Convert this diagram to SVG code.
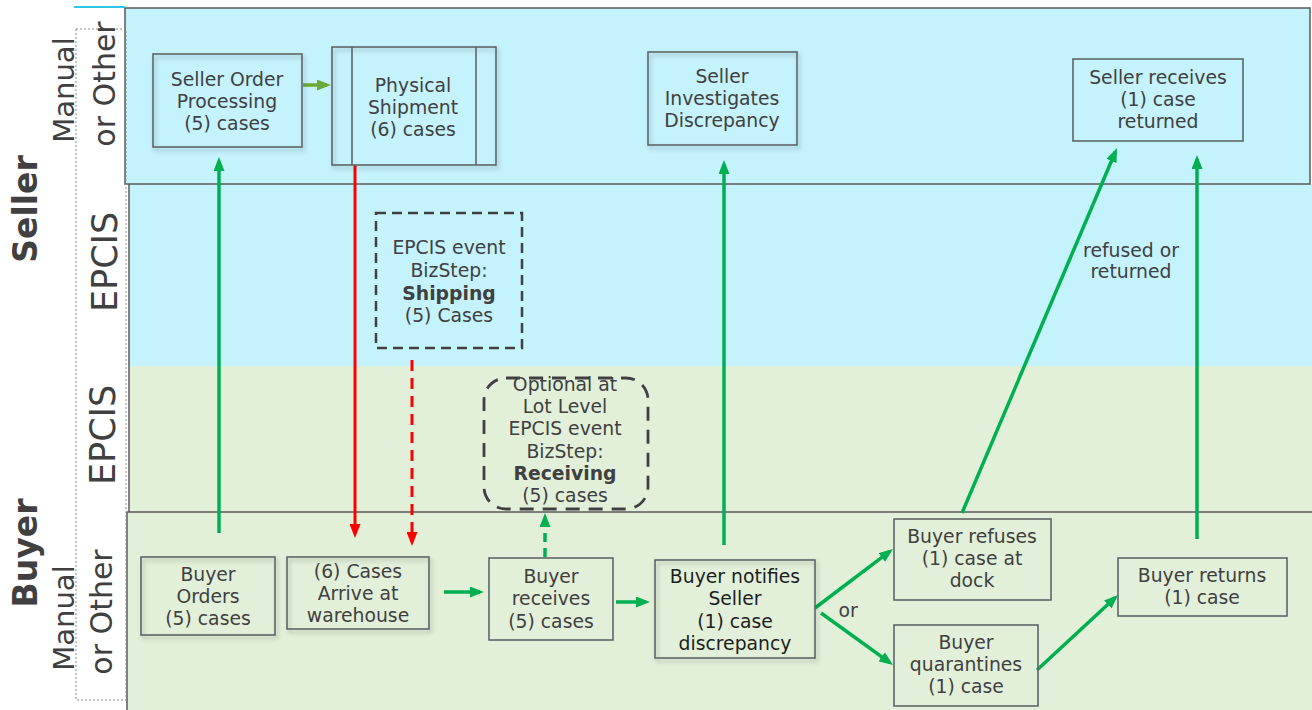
<svg xmlns="http://www.w3.org/2000/svg" width="1312" height="710" viewBox="0 0 1312 710">
<style>
.t{font-family:"DejaVu Sans","Liberation Sans",sans-serif;font-size:18.8px;fill:#404040;text-anchor:middle}
.b{font-weight:bold}
.lab{font-family:"DejaVu Sans","Liberation Sans",sans-serif;fill:#404040;text-anchor:middle}
.box{fill:none;stroke:#5f6666;stroke-width:1.6}
.g{stroke:#00b050;stroke-width:3.5;fill:none}
</style>
<defs>
<filter id="sh" x="-10%" y="-10%" width="130%" height="130%">
<feDropShadow dx="2" dy="3" stdDeviation="2" flood-color="#000" flood-opacity="0.25"/>
</filter>
<marker id="ag" viewBox="0 0 14 11" refX="10" refY="5.5" markerWidth="14" markerHeight="11" markerUnits="userSpaceOnUse" orient="auto">
<path d="M0,0 L14,5.5 L0,11 z" fill="#00b050"/>
</marker>
<marker id="al" viewBox="0 0 14 11" refX="10" refY="5.5" markerWidth="14" markerHeight="11" markerUnits="userSpaceOnUse" orient="auto">
<path d="M0,0 L14,5.5 L0,11 z" fill="#6aaa3a"/>
</marker>
<marker id="ar" viewBox="0 0 14 11" refX="10" refY="5.5" markerWidth="14" markerHeight="11" markerUnits="userSpaceOnUse" orient="auto">
<path d="M0,0 L14,5.5 L0,11 z" fill="#ff0000"/>
</marker>
</defs>
<rect x="0" y="0" width="1312" height="710" fill="#ffffff"/>

<g id="lanes">
<rect x="129" y="184" width="1183" height="182" fill="#c4f2fd"/>
<rect x="129" y="366" width="1183" height="146" fill="#e2f0d9"/>
<rect x="127" y="512" width="1185" height="198" fill="#e2f0d9"/>
<line x1="129" y1="184" x2="129" y2="512" stroke="#5a5a5a" stroke-width="1.5"/>
<line x1="127" y1="512" x2="1312" y2="512" stroke="#5a5a5a" stroke-width="1.5"/>
<line x1="127" y1="512" x2="127" y2="710" stroke="#5a5a5a" stroke-width="1.5"/>
<rect x="125" y="8" width="1185" height="176" fill="#c4f2fd" stroke="#5a5a5a" stroke-width="1.5"/>
<line x1="74" y1="7" x2="125" y2="7" stroke="#2ec5e8" stroke-width="2"/>
<rect x="76" y="29" width="50" height="671" fill="none" stroke="#8a8a8a" stroke-width="1" stroke-dasharray="2 2"/>
<text class="lab b" font-size="33" transform="translate(37,209) rotate(-90)">Seller</text>
<text class="lab b" font-size="33" transform="translate(37,553) rotate(-90)">Buyer</text>
<text class="lab" font-size="29" transform="translate(74,90) rotate(-90)">Manual</text>
<text class="lab" font-size="30" transform="translate(115,84) rotate(-90)">or Other</text>
<text class="lab" font-size="35" transform="translate(117,262) rotate(-90)">EPCIS</text>
<text class="lab" font-size="35" transform="translate(115,435) rotate(-90)">EPCIS</text>
<text class="lab" font-size="29" transform="translate(74,618) rotate(-90)">Manual</text>
<text class="lab" font-size="30" transform="translate(112,612) rotate(-90)">or Other</text>
</g>

<g id="connectors">
<line x1="303" y1="85" x2="327" y2="85" stroke="#6aaa3a" stroke-width="3.5" marker-end="url(#al)"/>
<line class="g" x1="219" y1="533" x2="219" y2="161" marker-end="url(#ag)"/>
<line x1="355" y1="165" x2="355" y2="534" stroke="#ff0000" stroke-width="3" marker-end="url(#ar)"/>
<line x1="412" y1="360" x2="412" y2="542" stroke="#ff0000" stroke-width="3" stroke-dasharray="11 7" marker-end="url(#ar)"/>
<line class="g" x1="444" y1="592" x2="480" y2="592" marker-end="url(#ag)"/>
<line class="g" x1="545" y1="557" x2="545" y2="517" stroke-dasharray="9 6" marker-end="url(#ag)"/>
<line class="g" x1="616" y1="602" x2="646" y2="602" marker-end="url(#ag)"/>
<line class="g" x1="724" y1="545" x2="724" y2="164" marker-end="url(#ag)"/>
<line class="g" x1="815" y1="608" x2="889.8" y2="551.4" marker-end="url(#ag)"/>
<line class="g" x1="821" y1="613" x2="889.8" y2="662.7" marker-end="url(#ag)"/>
<line class="g" x1="1037" y1="670" x2="1115.1" y2="597.7" marker-end="url(#ag)"/>
<line class="g" x1="962" y1="513" x2="1115.4" y2="151.7" marker-end="url(#ag)"/>
<line class="g" x1="1197" y1="539" x2="1197" y2="159" marker-end="url(#ag)"/>
<text class="t" x="848" y="617">or</text>
<text class="t" x="1131" y="257">refused or</text>
<text class="t" x="1131" y="278">returned</text>
</g>

<g id="seller-order">
<rect class="box" x="153" y="54" width="149" height="93" fill="#c4f2fd" filter="url(#sh)"/>
<text class="t" x="227" y="86">Seller Order</text>
<text class="t" x="227" y="108">Processing</text>
<text class="t" x="227" y="130">(5) cases</text>
</g>

<g id="physical-shipment">
<rect class="box" x="332" y="47" width="164" height="118" fill="#c4f2fd" filter="url(#sh)"/>
<line x1="352" y1="47" x2="352" y2="165" stroke="#5f6666" stroke-width="1.6"/>
<line x1="476" y1="47" x2="476" y2="165" stroke="#5f6666" stroke-width="1.6"/>
<text class="t" x="413" y="92">Physical</text>
<text class="t" x="413" y="114">Shipment</text>
<text class="t" x="413" y="136">(6) cases</text>
</g>

<g id="seller-investigates">
<rect class="box" x="648" y="52" width="149" height="93" fill="#c4f2fd" filter="url(#sh)"/>
<text class="t" x="722" y="83">Seller</text>
<text class="t" x="722" y="105">Investigates</text>
<text class="t" x="722" y="127">Discrepancy</text>
</g>

<g id="seller-receives">
<rect class="box" x="1073" y="59" width="170" height="82" fill="#c4f2fd"/>
<text class="t" x="1158" y="84">Seller receives</text>
<text class="t" x="1158" y="106">(1) case</text>
<text class="t" x="1158" y="128">returned</text>
</g>

<g id="epcis-shipping">
<rect x="376" y="213" width="146" height="135" fill="none" stroke="#404040" stroke-width="2.5" stroke-dasharray="10 6"/>
<text class="t" x="449" y="254">EPCIS event</text>
<text class="t" x="449" y="277">BizStep:</text>
<text class="t b" x="449" y="300">Shipping</text>
<text class="t" x="449" y="322">(5) Cases</text>
</g>

<g id="epcis-receiving">
<rect x="484" y="378" width="164" height="131" rx="22" ry="22" fill="none" stroke="#404040" stroke-width="2.8" stroke-dasharray="14 9"/>
<text class="t" x="565" y="391">Optional at</text>
<text class="t" x="565" y="413">Lot Level</text>
<text class="t" x="565" y="435">EPCIS event</text>
<text class="t" x="565" y="458">BizStep:</text>
<text class="t b" x="565" y="480">Receiving</text>
<text class="t" x="565" y="502">(5) cases</text>
</g>

<g id="buyer-orders">
<rect class="box" x="141" y="557" width="134" height="78" fill="#e2f0d9" filter="url(#sh)"/>
<text class="t" x="208" y="581">Buyer</text>
<text class="t" x="208" y="603">Orders</text>
<text class="t" x="208" y="625">(5) cases</text>
</g>

<g id="cases-arrive">
<rect class="box" x="287" y="557" width="142" height="72" fill="#e2f0d9" filter="url(#sh)"/>
<text class="t" x="358" y="578">(6) Cases</text>
<text class="t" x="358" y="600">Arrive at</text>
<text class="t" x="358" y="622">warehouse</text>
</g>

<g id="buyer-receives">
<rect class="box" x="489" y="558" width="124" height="82" fill="#e2f0d9"/>
<text class="t" x="551" y="583">Buyer</text>
<text class="t" x="551" y="605">receives</text>
<text class="t" x="551" y="628">(5) cases</text>
</g>

<g id="buyer-notifies">
<rect class="box" x="655" y="560" width="160" height="98" fill="#e2f0d9" filter="url(#sh)"/>
<text class="t" x="735" y="583" style="fill:#1e1e1e">Buyer notifies</text>
<text class="t" x="735" y="605" style="fill:#1e1e1e">Seller</text>
<text class="t" x="735" y="628" style="fill:#1e1e1e">(1) case</text>
<text class="t" x="735" y="650" style="fill:#1e1e1e">discrepancy</text>
</g>

<g id="buyer-refuses">
<rect class="box" x="894" y="519" width="157" height="81" fill="#e2f0d9"/>
<text class="t" x="972" y="543">Buyer refuses</text>
<text class="t" x="972" y="565">(1) case at</text>
<text class="t" x="972" y="587">dock</text>
</g>

<g id="buyer-quarantines">
<rect class="box" x="894" y="625" width="144" height="81" fill="#e2f0d9"/>
<text class="t" x="966" y="649">Buyer</text>
<text class="t" x="966" y="671">quarantines</text>
<text class="t" x="966" y="693">(1) case</text>
</g>

<g id="buyer-returns">
<rect class="box" x="1118" y="558" width="169" height="58" fill="#e2f0d9"/>
<text class="t" x="1202" y="582">Buyer returns</text>
<text class="t" x="1202" y="604">(1) case</text>
</g>
</svg>
